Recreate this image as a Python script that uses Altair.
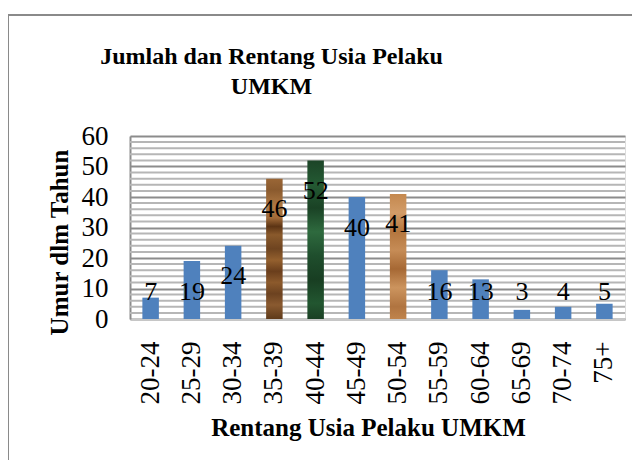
import altair as alt
import pandas as pd

# ---- data ----
categories = ["20-24", "25-29", "30-34", "35-39", "40-44", "45-49",
              "50-54", "55-59", "60-64", "65-69", "70-74", "75+"]
values = [7, 19, 24, 46, 52, 40, 41, 16, 13, 3, 4, 5]
wood_cats = ["35-39"]
marble_cats = ["40-44"]
sand_cats = ["50-54"]

df = pd.DataFrame({"cat": categories, "v": values})

FONT = "Liberation Serif, Times New Roman, serif"
W, H = 495, 183

xscale = alt.Scale(domain=categories, paddingInner=0.6, paddingOuter=0.3)
yscale = alt.Scale(domain=[0, 60], nice=False)

x_enc = alt.X("cat:N", scale=xscale, sort=categories,
              axis=alt.Axis(title="Rentang Usia Pelaku UMKM", labelAngle=-90,
                            labelPadding=22, ticks=False, domain=True,
                            domainColor="#c8c8c8", domainWidth=2,
                            labelFontSize=27, labelFont=FONT, labelColor="#000",
                            titleFont=FONT, titleFontSize=25, titleFontWeight="bold",
                            titleColor="#000", titleBaseline="middle",
                            titleX=238, titleY=108))
y_axis = alt.Axis(title="Umur dlm Tahun", values=[0, 10, 20, 30, 40, 50, 60],
                  ticks=False, domain=True, domainColor="#8c8c8c", domainWidth=2,
                  grid=True, gridColor="#8c8c8c", gridWidth=2,
                  labelPadding=22, labelFontSize=27, labelFont=FONT, labelColor="#000",
                  titleFont=FONT, titleFontSize=25, titleFontWeight="bold",
                  titleColor="#000", titleBaseline="middle", titleAngle=-90,
                  titleX=-71, titleY=106)

base = alt.Chart(df)

minor = alt.Chart(alt.sequence(2, 60, 2, as_="g")).transform_filter(
    "datum.g % 10 != 0"
).mark_rule(color="#b6b6b6", strokeWidth=2).encode(
    y=alt.Y("g:Q", scale=yscale, axis=y_axis)
)

def grad(stops):
    return alt.LinearGradient(
        gradient="linear", x1=0, y1=0, x2=0, y2=1,
        stops=[alt.GradientStop(offset=o, color=c) for o, c in stops])

wood = grad([(0.0, "#9a6636"), (0.08, "#8a5a2e"), (0.2, "#b07a44"), (0.28, "#a06a38"),
             (0.34, "#5c3414"), (0.4, "#8a5a2c"), (0.5, "#6e4420"), (0.58, "#94602e"),
             (0.66, "#6a3e1c"), (0.74, "#8c5a2c"), (0.82, "#6c4220"), (0.9, "#8a5a30"),
             (1.0, "#5e3a1a")])
marble = grad([(0.0, "#1c4427"), (0.15, "#245a33"), (0.3, "#1a4225"), (0.45, "#2e6a3e"),
               (0.6, "#1f4e2d"), (0.75, "#183e22"), (0.9, "#22563 0".replace(" ", "")), (1.0, "#1a4024")])
sand = grad([(0.0, "#c4884e"), (0.15, "#d29c68"), (0.3, "#b4763e"), (0.45, "#c68c56"),
             (0.6, "#a66834"), (0.75, "#cc945e"), (0.9, "#b07440"), (1.0, "#c0844c")])

y_bar = alt.Y("v:Q", scale=yscale, axis=y_axis)

bars = base.transform_filter(
    ~alt.FieldOneOfPredicate(field="cat", oneOf=wood_cats + marble_cats + sand_cats)
).mark_bar(color="#4f81bd").encode(x=x_enc, y=y_bar)

wood_bar = base.transform_filter(alt.FieldOneOfPredicate(field="cat", oneOf=wood_cats)).mark_bar(
    color=wood).encode(x=x_enc, y=y_bar)
marble_bar = base.transform_filter(alt.FieldOneOfPredicate(field="cat", oneOf=marble_cats)).mark_bar(
    color=marble).encode(x=x_enc, y=y_bar)
sand_bar = base.transform_filter(alt.FieldOneOfPredicate(field="cat", oneOf=sand_cats)).mark_bar(
    color=sand).encode(x=x_enc, y=y_bar)

labels = base.transform_calculate(
    ly="max(datum.v - 10, 9)"
).mark_text(font=FONT, fontSize=26, color="#000", baseline="middle", align="center").encode(
    x=x_enc, y=alt.Y("ly:Q", scale=yscale, axis=y_axis), text="v:Q"
)

frame_top = alt.Chart(df).mark_rule(color="#8a8a8a", strokeWidth=2).encode(
    x=alt.value(-122), x2=alt.value(W + 20), y=alt.value(-121))
frame_left = alt.Chart(df).mark_rule(color="#8a8a8a", strokeWidth=2).encode(
    x=alt.value(-122), y=alt.value(-121), y2=alt.value(H + 160))

chart = alt.layer(minor, bars, wood_bar, marble_bar, sand_bar, labels, frame_top, frame_left).properties(
    width=W, height=H,
    autosize=alt.AutoSizeParams(type="none"),
    padding={"left": 122, "top": 128, "right": 7, "bottom": 141},
    title=alt.TitleParams(
        text=["Jumlah dan Rentang Usia Pelaku", "UMKM"],
        font=FONT, fontSize=24, fontWeight="bold", color="#000",
        anchor="middle", frame="group", dx=-106, offset=-85, lineHeight=30),
).configure_view(stroke=None).configure(background="white", font=FONT)

chart.save("out.html", embed_options={"renderer": "svg", "actions": False})
